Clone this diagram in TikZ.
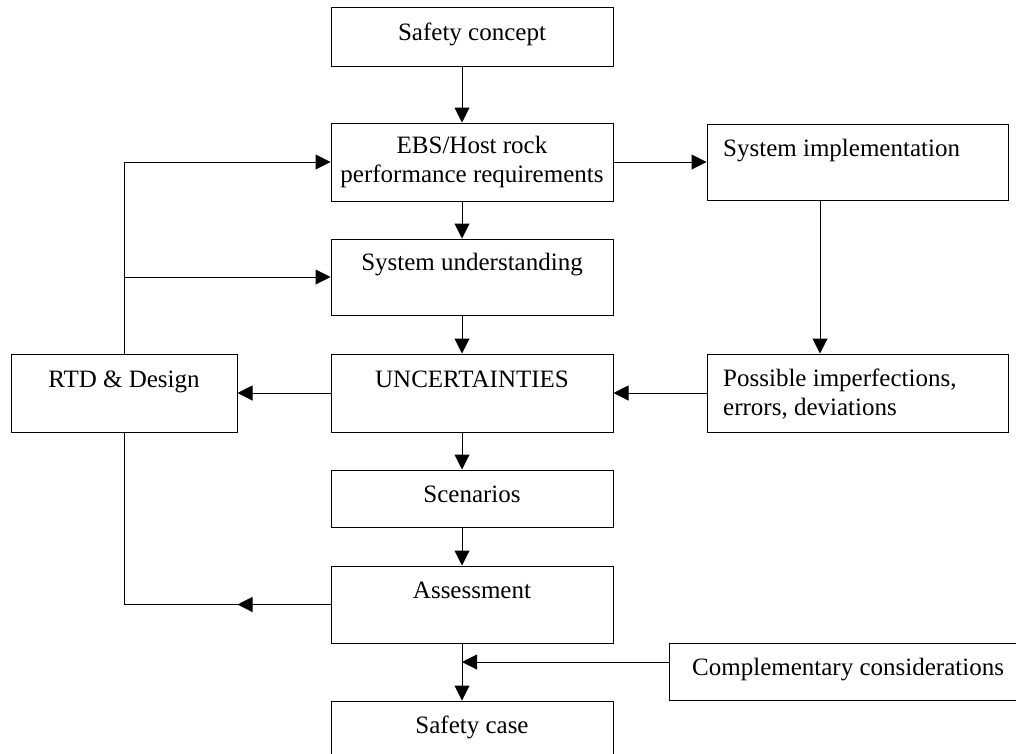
\documentclass[tikz,border=0pt]{standalone}
\usepackage{fontspec}
\setmainfont{Liberation Serif}
\usetikzlibrary{arrows.meta}
\begin{document}
\begin{tikzpicture}[x=1pt,y=-1pt,
  box/.style={draw, line width=1pt, inner sep=0pt},
  txt/.style={inner sep=0pt, font=\fontsize{25}{29}\selectfont},
  link/.style={line width=1pt},
  arr/.style={line width=1pt, -{Triangle[length=15pt,width=15pt]}}]
\useasboundingbox (0,0) rectangle (1016,753);

% boxes
\node[box, minimum width=282pt, minimum height=59pt] (sc)  at (472,36.5)  {};
\node[box, minimum width=282pt, minimum height=78pt] (ebs) at (472,162)   {};
\node[box, minimum width=301pt, minimum height=76pt] (si)  at (857.5,162) {};
\node[box, minimum width=282pt, minimum height=76pt] (su)  at (472,277)   {};
\node[box, minimum width=226pt, minimum height=78pt] (rtd) at (124,393)   {};
\node[box, minimum width=282pt, minimum height=78pt] (unc) at (472,393)   {};
\node[box, minimum width=301pt, minimum height=78pt] (pi)  at (857.5,393) {};
\node[box, minimum width=282pt, minimum height=57pt] (scn) at (472,498.5) {};
\node[box, minimum width=282pt, minimum height=77pt] (as)  at (472,604.5) {};
\node[box, minimum width=361pt, minimum height=57pt] (cc)  at (849.5,671.5) {};
\node[box, minimum width=282pt, minimum height=69pt] (scs) at (472,735.5) {};

% labels (multi-line labels sit on the baseline of their last line)
\node[txt, anchor=base] (sc-t)  at (472,40)  {Safety concept};
\node[txt, anchor=base, align=center] (ebs-t) at (472,182) {EBS/Host rock\\performance requirements};
\node[txt, anchor=base west] (si-t) at (723,156) {System implementation};
\node[txt, anchor=base] (su-t)  at (472,270) {System understanding};
\node[txt, anchor=base] (rtd-t) at (124,387) {RTD \& Design};
\node[txt, anchor=base] (unc-t) at (472,387) {UNCERTAINTIES};
\node[txt, anchor=base west, align=left] (pi-t) at (723,415) {Possible imperfections,\\errors, deviations};
\node[txt, anchor=base] (scn-t) at (472,502) {Scenarios};
\node[txt, anchor=base] (as-t)  at (472,598) {Assessment};
\node[txt, anchor=base west] (cc-t) at (692,675) {Complementary considerations};
\node[txt, anchor=base] (scs-t) at (472,733) {Safety case};

% main column flow
\draw[arr] ([xshift=-10pt]sc.south)  -- ([xshift=-10pt]ebs.north);
\draw[arr] ([xshift=-10pt]ebs.south) -- ([xshift=-10pt]su.north);
\draw[arr] ([xshift=-10pt]su.south)  -- ([xshift=-10pt]unc.north);
\draw[arr] ([xshift=-10pt]unc.south) -- ([xshift=-10pt]scn.north);
\draw[arr] ([xshift=-10pt]scn.south) -- ([xshift=-10pt]as.north);
\draw[arr] ([xshift=-10pt]as.south)  -- ([xshift=-10pt]scs.north);

% right branch
\draw[arr] (ebs.east) -- (si.west);
\draw[arr] ([xshift=-37.5pt]si.south) -- ([xshift=-37.5pt]pi.north);
\draw[arr] (pi.west) -- (unc.east);

% design feedback
\draw[arr] (unc.west) -- (rtd.east);
\draw[arr] (rtd.north) |- (ebs.west);
\draw[arr] (rtd.north |- su.west) -- (su.west);
\draw[link] (as.west) -| (rtd.south);
\draw[arr] (as.west) -- (rtd.east |- as.west);

% complementary input
\coordinate (mx) at ([xshift=-10pt]as.south);
\coordinate (ccin) at ([yshift=9.5pt]cc.west);
\draw[arr] (ccin) -- (ccin -| mx);
\end{tikzpicture}
\end{document}
